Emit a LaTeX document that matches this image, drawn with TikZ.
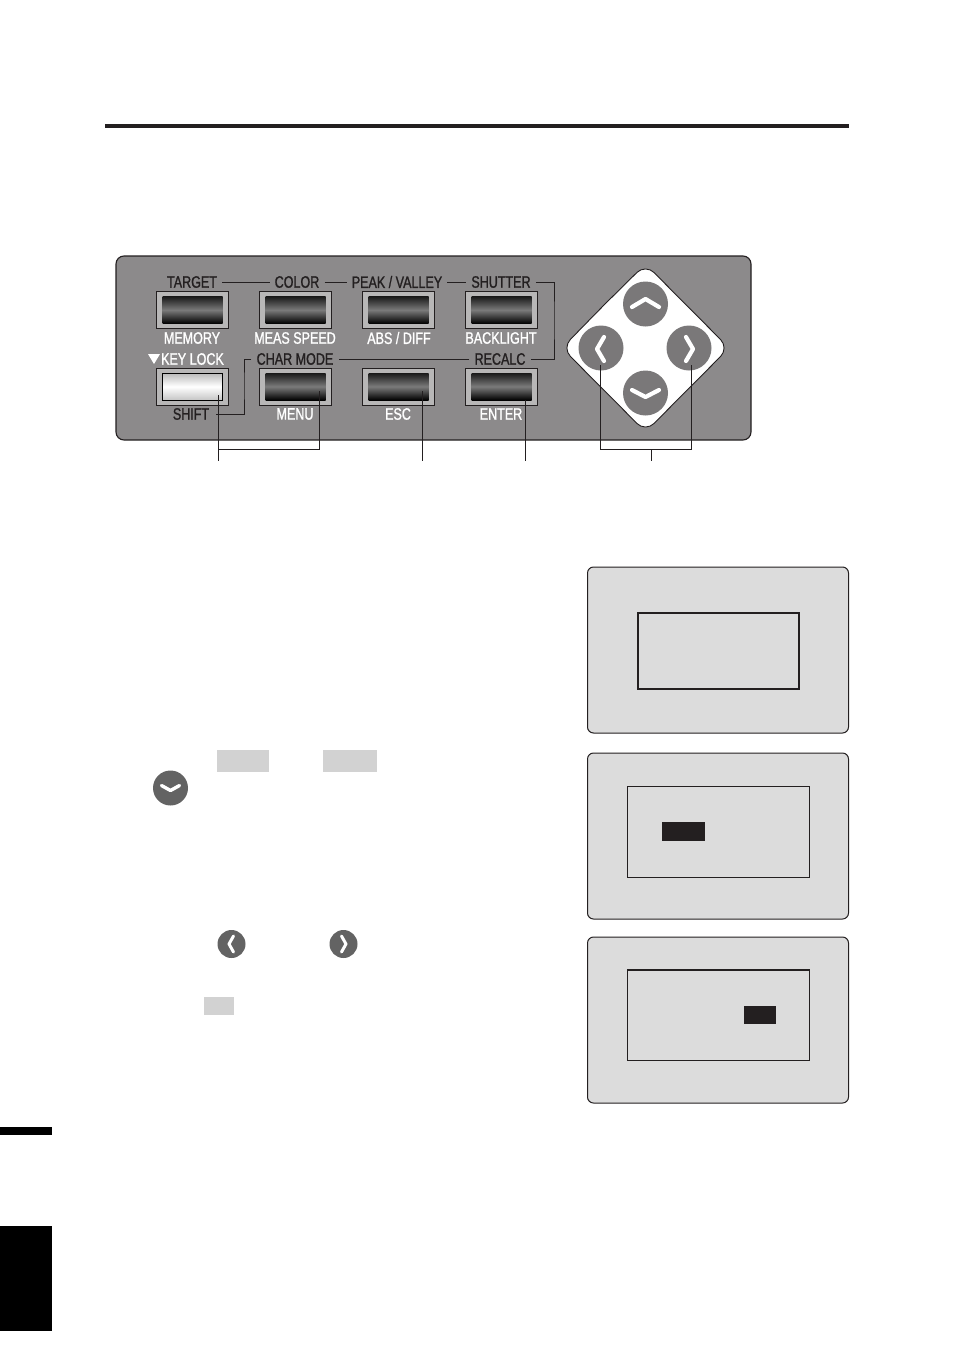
\documentclass[tikz,border=0pt]{standalone}
\usepackage{fontspec}
\setmainfont[FakeStretch=0.76,FakeBold=1.2]{Liberation Sans}
\definecolor{panelgray}{HTML}{8C8A8B}
\definecolor{keygray}{HTML}{B8B7B7}
\definecolor{padgray}{HTML}{7A7879}
\definecolor{icongray}{HTML}{636363}
\definecolor{lcdgray}{HTML}{DCDCDC}
\definecolor{markgray}{HTML}{D2D2D2}
\definecolor{inkdark}{HTML}{231F20}
\tikzset{
  keybox/.style={draw=inkdark, line width=0.9pt, fill=keygray, minimum width=72pt, minimum height=37pt, inner sep=0pt},
  keyface/.style={draw=none, minimum width=60pt, minimum height=27pt, inner sep=0pt, top color=black!90, bottom color=black, middle color=black!52},
  shiftface/.style={keyface, draw=black, line width=0.6pt, top color=gray!55, bottom color=gray!45, middle color=white},
  toplabel/.style={text=inkdark, font=\fontsize{16.5}{16.5}\selectfont, inner sep=5pt},
  lowlabel/.style={text=white, font=\fontsize{16.5}{16.5}\selectfont, inner sep=5pt},
  wire/.style={draw=inkdark, line width=1pt},
  pointer/.style={draw=inkdark, line width=0.9pt},
  padbtn/.style={circle, fill=padgray, minimum size=45pt, inner sep=0pt},
  iconbtn/.style={circle, fill=icongray, inner sep=0pt},
  chevron/.style={draw=white, line cap=round, line join=round},
  lcdcase/.style={draw=inkdark, line width=1pt, fill=lcdgray, rounded corners=6pt, minimum width=261pt, minimum height=166pt, inner sep=0pt},
  lcdscreen/.style={draw=inkdark, line width=1pt, inner sep=0pt},
  cursor/.style={fill=inkdark, inner sep=0pt},
  marker/.style={fill=markgray, inner sep=0pt}
}
\begin{document}
\begin{tikzpicture}[x=1pt, y=-1pt]
  \useasboundingbox (0,0) rectangle (954,1347);
  %page rules
  \fill[inkdark] (105,124) rectangle (849,128.2);
  \fill[black] (0,1127) rectangle (52,1135);
  \fill[black] (0,1226) rectangle (52,1331);
  %panel
  \draw[inkdark, line width=1.1pt, fill=panelgray, rounded corners=8pt] (116,256) rectangle (751,440);
  %keys upper row
  \node[keybox] (target) at (192.5,310) {};
  \node[keyface] at (target) {};
  \node[keybox] (color) at (295.5,310) {};
  \node[keyface] at (color) {};
  \node[keybox] (peak) at (398.5,310) {};
  \node[keyface] at (peak) {};
  \node[keybox] (shutter) at (501.5,310) {};
  \node[keyface] at (shutter) {};
  %keys lower row
  \node[keybox] (shift) at (192.5,386.5) {};
  \node[shiftface] at (shift) {};
  \node[keybox] (menu) at (295.5,386.5) {};
  \node[keyface] at (menu) {};
  \node[keybox] (esc) at (398.5,386.5) {};
  \node[keyface] at (esc) {};
  \node[keybox] (enter) at (501.5,386.5) {};
  \node[keyface] at (enter) {};
  %labels
  \node[toplabel] (ltarget) at (192,282) {TARGET};
  \node[toplabel] (lcolor) at (297,282) {COLOR};
  \node[toplabel] (lpeak) at (397,282) {PEAK / VALLEY};
  \node[toplabel] (lshutter) at (501,282) {SHUTTER};
  \node[lowlabel] at (192,338) {MEMORY};
  \node[lowlabel] at (295,338) {MEAS SPEED};
  \node[lowlabel] at (399,338) {ABS / DIFF};
  \node[lowlabel] at (501,338) {BACKLIGHT};
  \node[lowlabel] (lkey) at (192.5,359) {KEY LOCK};
  \fill[white] (148,354) -- (160,354) -- (154,364) -- cycle;
  \node[toplabel] (lchar) at (295,359) {CHAR MODE};
  \node[toplabel] (lrecalc) at (500,359) {RECALC};
  \node[toplabel, inner xsep=7pt] (lshift) at (191,414) {SHIFT};
  \node[lowlabel] at (295,414) {MENU};
  \node[lowlabel] at (398,414) {ESC};
  \node[lowlabel] at (501,414) {ENTER};
  %label wires
  \coordinate (bendr) at (554,320);
  \coordinate (bendl) at (244,385);
  \draw[wire] (ltarget) -- (lcolor);
  \draw[wire] (lcolor) -- (lpeak);
  \draw[wire] (lpeak) -- (lshutter);
  \draw[wire] (lshutter) -| (bendr) |- (lrecalc);
  \draw[wire] (lrecalc) -- (lchar);
  \draw[wire] (lchar) -| (bendl) |- (lshift);
  %arrow pad
  \draw[fill=white, draw=inkdark, line width=0.9pt, rounded corners=12pt] (645.5,264) -- (729,348) -- (645.5,432) -- (562,348) -- (603,306) -- cycle;
  \node[padbtn] (padup) at (645.5,304) {};
  \node[padbtn] (padleft) at (601,348) {};
  \node[padbtn] (padright) at (689,348) {};
  \node[padbtn] (paddown) at (645.5,393) {};
  \draw[chevron, line width=4.2pt] (632,307) -- (645.5,299) -- (659,307);
  \draw[chevron, line width=4.2pt] (632,390) -- (645.5,397) -- (659,390);
  \draw[chevron, line width=4.2pt] (604,337) -- (597,349) -- (604,361);
  \draw[chevron, line width=4.2pt] (686,337) -- (693,349) -- (686,361);
  %pointers
  \coordinate (pshift) at (218,395);
  \coordinate (pmenu) at (319,391);
  \coordinate (pesc) at (422.5,391);
  \coordinate (penter) at (525.5,400);
  \coordinate (pleft) at (600,365);
  \coordinate (pright) at (691.5,365);
  \coordinate (endshift) at (218,461);
  \coordinate (endesc) at (422.5,461);
  \coordinate (endenter) at (525.5,461);
  \coordinate (endpad) at (651,461);
  \coordinate (joinpad) at (651,449.5);
  \coordinate (joinkey) at (218,449.5);
  \draw[pointer] (pshift) -- (endshift);
  \draw[pointer] (pmenu) |- (joinkey);
  \draw[pointer] (pesc) -- (endesc);
  \draw[pointer] (penter) -- (endenter);
  \draw[pointer] (pleft) |- (joinpad);
  \draw[pointer] (pright) |- (joinpad);
  \draw[pointer] (joinpad) -- (endpad);
  %text markers
  \node[marker, minimum width=52pt, minimum height=22pt] (mark1) at (243,761) {};
  \node[marker, minimum width=54pt, minimum height=22pt] (mark2) at (350,761) {};
  \node[marker, minimum width=30pt, minimum height=18pt] (mark3) at (219,1006) {};
  %small icons
  \node[iconbtn, minimum size=35pt] (icondown) at (170.5,788) {};
  \draw[chevron, line width=3.4pt] (161.5,785.5) -- (170.5,790.5) -- (179.5,785.5);
  \node[iconbtn, minimum size=28pt] (iconleft) at (231.5,944) {};
  \draw[chevron, line width=3pt] (233.5,936) -- (229,944) -- (233.5,952);
  \node[iconbtn, minimum size=28pt] (iconright) at (343.5,944) {};
  \draw[chevron, line width=3pt] (341.5,936) -- (346,944) -- (341.5,952);
  %display screens
  \node[lcdcase] (lcdone) at (718,650) {};
  \node[lcdscreen, line width=1.6pt, minimum width=161pt, minimum height=76pt] (scrone) at (718.5,651) {};
  \node[lcdcase] (lcdtwo) at (718,836) {};
  \node[lcdscreen, minimum width=182pt, minimum height=91pt] (scrtwo) at (718.5,831.5) {};
  \node[cursor, minimum width=43pt, minimum height=19pt] (curtwo) at (683.5,831.5) {};
  \node[lcdcase] (lcdthree) at (718,1020) {};
  \node[lcdscreen, minimum width=182pt, minimum height=90pt] (scrthree) at (718.5,1015) {};
  \draw[inkdark, line width=1.6pt] (scrthree.north west) -- (scrthree.north east);
  \node[cursor, minimum width=32pt, minimum height=18pt] (curthree) at (760,1015) {};
\end{tikzpicture}
\end{document}
